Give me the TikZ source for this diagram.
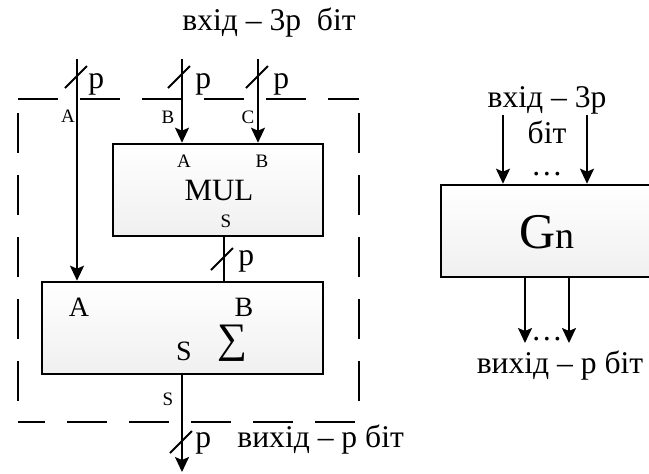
\documentclass[tikz,border=0pt]{standalone}
\usepackage{fontspec}
\setmainfont{Liberation Serif}
\usetikzlibrary{arrows.meta}
\newcommand{\fsz}[1]{\fontsize{#1}{#1}\selectfont}
\begin{document}
\begin{tikzpicture}[x=0.5pt,y=-0.5pt,
  blk/.style={draw,line width=1.3pt,top color=white,bottom color=black!6,
    inner sep=0pt,minimum height=46pt},
  wire/.style={line width=1pt},
  arr/.style={wire,-{Stealth[length=7.5pt,width=7pt,inset=1.5pt]}},
  frame/.style={line width=1pt,dash pattern=on 20pt off 11pt},
  txt/.style={inner sep=0pt,font=\fsz{15.8}},
  tiny/.style={inner sep=0pt,font=\fsz{9.5}},
  mid/.style={inner sep=0pt,font=\fsz{14}},
  bus/.pic={\draw[line width=1pt] (-11,11) -- (11,-11);}]
\useasboundingbox (0,0) rectangle (649,473);

% dashed frame round the adder unit
\draw[frame,dash phase=0pt] (18,99) -- (359,99);
\draw[frame,dash phase=24pt] (18,99) -- (18,422);
\draw[frame,dash phase=24pt] (359,99) -- (359,422);
\draw[frame,dash phase=6.5pt] (18,422) -- (359,422);

% blocks
\node[blk,minimum width=105pt] (mul) at (218,190) {};
\node[blk,minimum width=140.5pt] (sum) at (182.5,328) {};
\node[blk,minimum width=106pt] (gn) at (547,231) {};

% block inscriptions
\node[tiny] at (184,161) {A};
\node[tiny] at (262,161) {B};
\node[tiny] at (226,221) {S};
\node[inner sep=0pt,font=\fsz{15.5}] at (219,190) {MUL};
\node[mid] at (79,307) {A};
\node[mid] at (244,307) {B};
\node[mid] at (184,351) {S};
\node[inner sep=0pt,font=\fsz{21}] at (232,343) {∑};
\node[inner sep=0pt,font=\fsz{25}] at (547,232) {G{\fsz{19}n}};

% inputs of the adder unit
\coordinate (inA) at (77,59);
\coordinate (inB) at (182,59);
\coordinate (inC) at (258,59);
\draw[arr] (inA) -- (inA |- sum.north);
\draw[arr] (inB) -- (inB |- mul.north);
\draw[arr] (inC) -- (inC |- mul.north);
\pic at (76,77) {bus};
\pic at (179,77) {bus};
\pic at (257,77) {bus};
\node[tiny] at (68,116) {A};
\node[tiny] at (168,117) {B};
\node[tiny] at (248,117) {C};
\node[txt,anchor=base west] at (88,88) {p};
\node[txt,anchor=base west] at (195,88) {p};
\node[txt,anchor=base west] at (273,88) {p};
\node[txt,anchor=base west] at (182,30) {вхід – 3р\ \ біт};

% product into the adder
\coordinate (mulS) at (224,236);
\draw[wire] (mulS |- mul.south) -- (mulS |- sum.north);
\pic at (222,259) {bus};
\node[txt,anchor=base west] at (238,265) {p};

% output of the adder unit
\coordinate (out) at (182,472);
\draw[arr] (out |- sum.south) -- (out);
\pic at (181,442) {bus};
\node[tiny] at (168,399) {S};
\node[txt,anchor=base west] at (195,447) {p};
\node[txt,anchor=base west] at (237,447) {вихід – р біт};

% generalised block
\coordinate (g1) at (503,115);
\coordinate (g2) at (587,115);
\draw[arr] (g1) -- (g1 |- gn.north);
\draw[arr] (g2) -- (g2 |- gn.north);
\node[txt,anchor=base] at (547,107) {вхід – 3р};
\node[txt,anchor=base] at (547,143) {біт};
\node[txt,anchor=base] at (547,175) {\ldots};
\coordinate (o1) at (525,343);
\coordinate (o2) at (569,343);
\draw[arr] (o1 |- gn.south) -- (o1);
\draw[arr] (o2 |- gn.south) -- (o2);
\node[txt,anchor=base] at (547,340) {\ldots};
\node[txt,anchor=base] at (560,373) {вихід – р біт};
\end{tikzpicture}
\end{document}
